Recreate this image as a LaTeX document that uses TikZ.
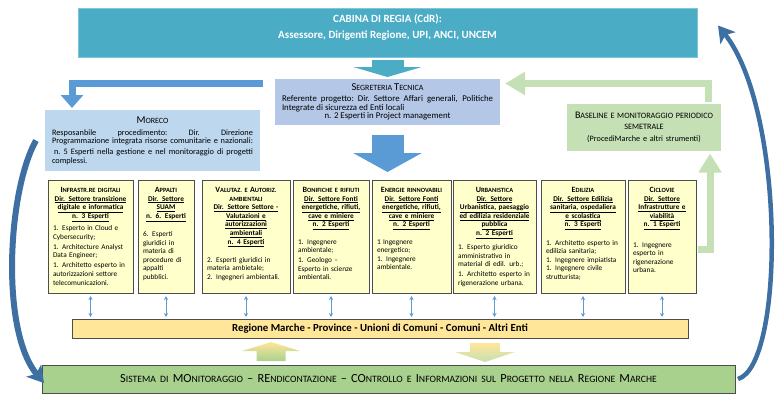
\documentclass[tikz,border=0pt]{standalone}
\usepackage{fontspec}
\setmainfont{Carlito}
\usetikzlibrary{arrows.meta, positioning}

\definecolor{cdrteal}{HTML}{4BACC6}
\definecolor{seglav}{HTML}{B4C7E7}
\definecolor{morblue}{HTML}{BDD7EE}
\definecolor{basegreen}{HTML}{C5E0B4}
\definecolor{boxyellow}{HTML}{FFFFCC}
\definecolor{regyellow}{HTML}{FFE699}
\definecolor{sisgreen}{HTML}{A9D18E}
\definecolor{arrblue}{HTML}{5B9BD5}
\definecolor{curveblue}{HTML}{3D6FA3}
\definecolor{edge}{HTML}{4D4D4D}

% fake small caps: capital letters in full size, the rest smaller
\newcommand{\bigsize}{8}
\newcommand{\lowsize}{6.4}
\newcommand{\low}[1]{{\fontsize{\lowsize}{\lowsize}\selectfont #1}}
\newcommand{\capl}[1]{{\fontsize{\bigsize}{\bigsize}\selectfont #1}}
\newcommand{\ul}[1]{\underline{#1}}
\newcommand{\textsizes}[2]{\lineskiplimit=-5pt\relax\def\bigsize{#1}\def\lowsize{#2}}
% one justified line, spaces stretched to the full width
\newcommand{\spread}[2]{\makebox[#1][s]{\spaceskip=.23em plus 1fil\xspaceskip=.23em plus 1fil\relax #2}}
% text of one sector box: title, underlined lines, gap, list
\newcommand{\sectortext}[4]{\parbox[t][103pt][t]{\hsize}{\textsizes{8}{6.4}%
	\centering\bfseries\rule{0pt}{7.5pt}#1\\#2\par\vspace{#3}\raggedright\mdseries #4}}

\begin{document}
\begin{tikzpicture}[x=1pt, y=-1pt,
	panel/.style={rectangle, inner sep=0pt, outer sep=0pt, align=center},
	sector/.style={rectangle, draw=edge, fill=boxyellow, line width=0.7pt, outer sep=0pt,
		minimum height=113pt, inner xsep=5pt, inner ysep=5pt, text width=#1, align=left,
		font=\fontsize{7.3}{8.6}\selectfont},
	link/.style={arrblue, line width=0.6pt, {Stealth[length=4pt,width=4pt]}-{Stealth[length=4pt,width=4pt]},
		shorten <=3pt, shorten >=2pt},
	blockarrow/.style={line width=32pt, -{Triangle[length=#1, width=68pt]}},
	bentarrow/.style={line width=7pt, -{Triangle[length=#1, width=22pt]}},
	curvearrow/.style={curveblue, line width=#1, -{Stealth[length=16pt, width=19pt, inset=4pt]}}]
	\useasboundingbox (0,0) rectangle (784,402);

	\node[panel] (cdr) at (387.5,32.5) [fill=cdrteal, draw=cdrteal!70!white, minimum width=619pt,
		minimum height=49pt, text=white, font=\bfseries\fontsize{11}{16}\selectfont]
		{CABINA DI REGIA (CdR):\\Assessore, Dirigenti Regione, UPI, ANCI, UNCEM\\[-4pt]\mbox{}};

	\node[panel] (seg) at (387.5,102) [fill=seglav, minimum width=225pt, minimum height=46pt,
		text width=211pt, align=justify, font=\fontsize{8.8}{8.3}\selectfont]
		{\textsizes{10.5}{8}\makebox[211pt][c]{\capl{S}\low{EGRETERIA} \capl{T}\low{ECNICA}}\\[2.5pt]
		\spread{211pt}{Referente progetto: Dir. Settore Affari generali, Politiche}\\
		\makebox[211pt][l]{Integrate di sicurezza ed Enti locali}\\
		\makebox[211pt][c]{n. 2 Esperti in Project management}};

	\node[panel] (moreco) at (152.5,140.5) [fill=morblue, minimum width=215pt, minimum height=61pt,
		text width=201pt, align=justify, font=\fontsize{8.3}{8.6}\selectfont]
		{\textsizes{10.5}{8}\makebox[201pt][c]{\capl{M}\low{ORECO}}\\[3.5pt]
		\spread{201pt}{Resposanbile procedimento: Dir. Direzione}\\
		\spread{201pt}{Programmazione integrata risorse comunitarie e nazionali:}\\[2.5pt]
		\spread{201pt}{\hspace{2pt}n. 5 Esperti nella gestione e nel monitoraggio di progetti}\\
		\makebox[201pt][l]{complessi.}};

	\node[panel] (base) at (644,127) [fill=basegreen, minimum width=154pt, minimum height=47pt,
		text width=150pt, font=\fontsize{8.2}{11.5}\selectfont]
		{\textsizes{10}{8.2}\capl{B}\low{ASELINE E MONITORAGGIO PERIODICO}\\\low{SEMETRALE}\\(ProcediMarche e altri strumenti)};

	% the eight sectors
	\node[sector=75pt] (infra) at (48,180) [anchor=north west]
		{\sectortext{\capl{I}\low{NFRASTR.RE DIGITALI}}
		{\ul{Dir. Settore transizione}\\\ul{digitale e informatica}\\\ul{n. 3 Esperti}}{3.5pt}
		{1. Esperto in Cloud e\\Cybersecurity;\\[1.5pt]1. Architecture Analyst\\Data Engineer;\\[1.5pt]
		1. Architetto esperto in\\autorizzazioni settore\\telecomunicazioni.}};
	\node[sector=46pt] (appalti) [right=5pt of infra]
		{\sectortext{\capl{A}\low{PPALTI}}
		{\ul{Dir. Settore}\\\ul{SUAM}\\\ul{n. 6. Esperti}}{9.5pt}
		{6. Esperti\\giuridici in\\materia di\\procedure di\\appalti\\pubblici.}};
	\node[sector=78pt] (valut) [right=8pt of appalti]
		{\sectortext{\capl{V}\low{ALUTAZ. E} \capl{A}\low{UTORIZ.}\\\low{AMBIENTALI}}
		{\ul{Dir. Settore Settore -}\\\ul{Valutazioni e}\\\ul{autorizzazioni}\\\ul{ambientali}\\\ul{n. 4 Esperti}}{9.5pt}
		{2. Esperti giuridici in\\materia ambietale;\\2. Ingegneri ambientali.}};
	\node[sector=66pt] (bonif) [right=3pt of valut]
		{\sectortext{\capl{B}\low{ONIFICHE E RIFIUTI}}
		{\ul{Dir. Settore Fonti}\\\ul{energetiche, rifiuti,}\\\ul{cave e miniere}\\\ul{n. 2 Esperti}}{8.5pt}
		{1. Ingegnere\\ambientale;\\[1.5pt]1. Geologo --\\Esperto in scienze\\ambientali.}};
	\node[sector=69pt] (energ) [right=3pt of bonif]
		{\sectortext{\capl{E}\low{NERGIE RINNOVABILI}}
		{\ul{Dir. Settore Fonti}\\\ul{energetiche, rifiuti,}\\\ul{cave e miniere}\\\ul{n. 2 Esperti}}{8.5pt}
		{1 Ingegnere\\energetico;\\1. Ingegnere\\ambientale.}};
	\node[sector=73pt] (urban) [right=2pt of energ]
		{\sectortext{\capl{U}\low{RBANISTICA}}
		{\ul{Dir. Settore}\\\ul{Urbanistica, paesaggio}\\\ul{ed edilizia residenziale}\\\ul{pubblica}\\\ul{n. 2 Esperti}}{5.5pt}
		{1. Esperto giuridico\\amministrativo in\\material di edil. urb.;\\[1.5pt]1. Architetto esperto in\\rigenerazione urbana.}};
	\node[sector=74pt] (edil) [right=5pt of urban]
		{\sectortext{\capl{E}\low{DILIZIA}}
		{\ul{Dir. Settore Edilizia}\\\ul{sanitaria, ospedaliera}\\\ul{e scolastica}\\\ul{n. 3 Esperti}}{9.5pt}
		{1. Architetto esperto in\\edilizia sanitaria;\\1. Ingegnere impiatista\\1. Ingegnere civile\\strutturista;}};
	\node[sector=58pt] (ciclo) [right=3pt of edil]
		{\sectortext{\capl{C}\low{ICLOVIE}}
		{\ul{Dir. Settore}\\\ul{Infrastrutture e}\\\ul{viabilità}\\\ul{n. 1 Esperti}}{11.5pt}
		{1. Ingegnere\\esperto in\\rigenerazione\\urbana.}};

	\node[panel] (reg) at (380,328.5) [draw=edge, fill=regyellow, line width=0.6pt, minimum width=616pt,
		minimum height=19pt, font=\bfseries\fontsize{10.8}{12}\selectfont]
		{Regione Marche - Province - Unioni di Comuni - Comuni - Altri Enti};

	\node[panel] (sis) at (388.5,379) [draw=edge, fill=sisgreen, line width=0.6pt, minimum width=693pt,
		minimum height=28pt, text width=680pt, font=\fontsize{12.4}{14}\selectfont]
		{\textsizes{12.4}{9.7}S\low{ISTEMA DI} MO\low{NITORAGGIO} -- RE\low{NDICONTAZIONE} -- CO\low{NTROLLO E}
		I\low{NFORMAZIONI SUL} P\low{ROGETTO NELLA} R\low{EGIONE} M\low{ARCHE}};

	\coordinate (rowtop) at (387.5,172);

	% block arrows
	\draw[blockarrow=10pt, cdrteal, shorten <=3pt, shorten >=2pt] (cdr.south) -- (seg.north);
	\draw[blockarrow=19pt, arrblue, shorten <=10pt] (seg.south) -- (rowtop);
	\draw[bentarrow=13pt, arrblue, shorten >=2pt]
		([xshift=-12pt,yshift=-4.5pt]seg.north west) -| ([xshift=27pt]moreco.north west);
	\draw[bentarrow=20pt, basegreen, shorten <=2pt, shorten >=5pt]
		([xshift=-13pt]base.north east) |- ([yshift=-4.5pt]seg.north east);
	\draw[bentarrow=19pt, basegreen, shorten <=2pt, shorten >=3pt]
		([yshift=-12.5pt]ciclo.east) -| ([xshift=-11pt]base.south east);

	% sectors to Regione
	\foreach \s in {infra,appalti,valut,bonif,energ,urban,edil,ciclo}
		\draw[link] (\s.south) -- (\s.south |- reg.north);

	% up and down between the two bars
	\shade[top color=regyellow, bottom color=sisgreen]
		(271,342) -- (300,351) -- (285.5,351) -- (285.5,361) -- (256.5,361) -- (256.5,351) -- (242,351) -- cycle;
	\shade[top color=regyellow, bottom color=basegreen]
		(470,343) -- (500,343) -- (500,352) -- (515,352) -- (485,362) -- (455,352) -- (470,352) -- cycle;

	% big curved arrows
	\draw[curvearrow=6pt] ([xshift=-9pt]moreco.west) .. controls (8,190) and (0,330) .. ([xshift=2pt,yshift=-4pt]sis.west);
	\draw[curvearrow=4.5pt] ([xshift=3pt]sis.east) .. controls (785,365) and (785,110) .. ([xshift=21pt,yshift=7pt]cdr.east);
\end{tikzpicture}
\end{document}
